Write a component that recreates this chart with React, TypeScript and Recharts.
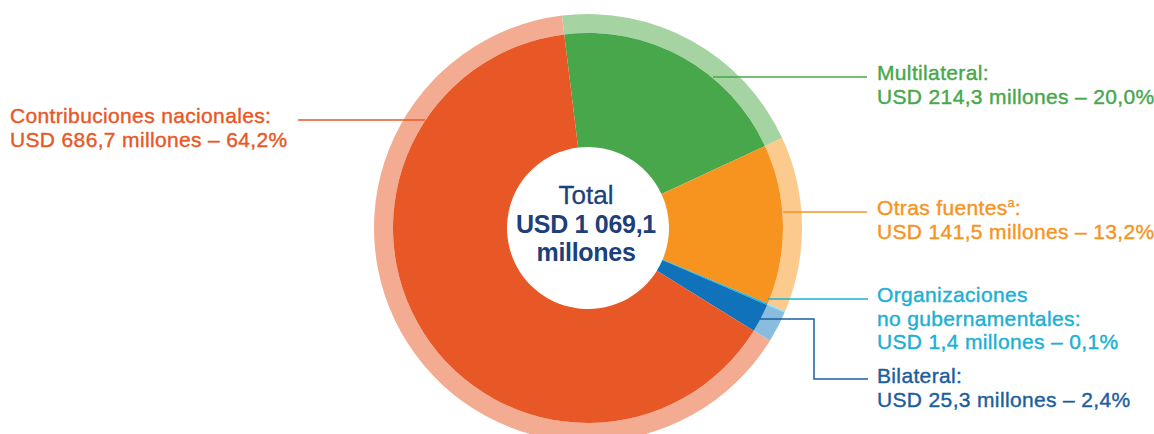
import { PieChart, Pie, Cell } from 'recharts'

const categories = ['Multilateral', 'Otras fuentes', 'Organizaciones no gubernamentales', 'Bilateral', 'Contribuciones nacionales']
const amounts = [214.3, 141.5, 1.4, 25.3, 686.7]
const amountLabels = ['214,3', '141,5', '1,4', '25,3', '686,7']
const shareLabels = ['20,0%', '13,2%', '0,1%', '2,4%', '64,2%']
const totalLabel = 'USD 1 069,1'

const mainColors = ['#48A74A', '#F6941F', '#19B3D6', '#0F72BA', '#E85826']
const ringColors = ['#A5D4A2', '#FCCA8D', '#9FDCEC', '#8ABCE0', '#F3AC91']
const textColors = ['#48A74A', '#F6941F', '#1BB0D4', '#1B5E9E', '#E85826']

const data = categories.map((name, i) => ({ name, value: amounts[i] }))

const W = 1154
const H = 434
const CX = 588
const CY = 228
const FONT = '"Liberation Sans", Arial, Helvetica, sans-serif'

// leader lines + text blocks, index matches categories
const labels = [
  { line: '713,77 867,77', x: 877, y: 80, lines: ['Multilateral:'] },
  { line: '783,212 867,212', x: 877, y: 215, lines: ['Otras fuentes'], sup: true },
  { line: '768,299 868,299', x: 877, y: 302, lines: ['Organizaciones', 'no gubernamentales:'] },
  { line: '760,319 814,319 814,379 868,379', x: 877, y: 383, lines: ['Bilateral:'] },
  { line: '425,120 298,120', x: 10, y: 123, lines: ['Contribuciones nacionales:'] },
]

export default function App() {
  return (
    <div style={{ position: 'absolute', left: 0, top: 0, width: W, height: H, background: '#fff', overflow: 'hidden' }}>
      <PieChart width={W} height={H} margin={{ top: 0, right: 0, bottom: 0, left: 0 }}>
        <Pie
          data={data}
          dataKey="value"
          cx={CX}
          cy={CY}
          innerRadius={195}
          outerRadius={214}
          startAngle={97}
          endAngle={-263}
          stroke="none"
          isAnimationActive={false}
        >
          {data.map((d, i) => (
            <Cell key={d.name} fill={ringColors[i]} />
          ))}
        </Pie>
        <Pie
          data={data}
          dataKey="value"
          cx={CX}
          cy={CY}
          innerRadius={81}
          outerRadius={195}
          startAngle={97}
          endAngle={-263}
          stroke="none"
          isAnimationActive={false}
        >
          {data.map((d, i) => (
            <Cell key={d.name} fill={mainColors[i]} />
          ))}
        </Pie>
      </PieChart>
      <svg width={W} height={H} style={{ position: 'absolute', left: 0, top: 0 }} fontFamily={FONT}>
        {labels.map((l, i) => (
          <g key={i}>
            <polyline points={l.line} fill="none" stroke={textColors[i]} strokeWidth={1.5} />
            <text
              x={l.x}
              y={l.y}
              fill={textColors[i]}
              stroke={textColors[i]}
              strokeWidth={0.4}
              fontSize={21}
              letterSpacing={0.35}
            >
              {l.lines.map((t, j) => (
                <tspan key={j} x={l.x} dy={j === 0 ? 0 : 23.5}>
                  {t}
                  {l.sup && j === l.lines.length - 1 ? (
                    <>
                      <tspan fontSize={12} dy={-8}>a</tspan>
                      <tspan dy={8}>:</tspan>
                    </>
                  ) : null}
                </tspan>
              ))}
              <tspan x={l.x} dy={23.5}>
                {`USD ${amountLabels[i]} millones – ${shareLabels[i]}`}
              </tspan>
            </text>
          </g>
        ))}
        <g fill="#1D3F7B" textAnchor="middle">
          <text x={586} y={204} fontSize={26} stroke="#1D3F7B" strokeWidth={0.3}>Total</text>
          <text x={586} y={233} fontSize={25} fontWeight="bold" letterSpacing={-0.3}>{totalLabel}</text>
          <text x={586} y={261} fontSize={25} fontWeight="bold" letterSpacing={-0.3}>millones</text>
        </g>
      </svg>
    </div>
  )
}
